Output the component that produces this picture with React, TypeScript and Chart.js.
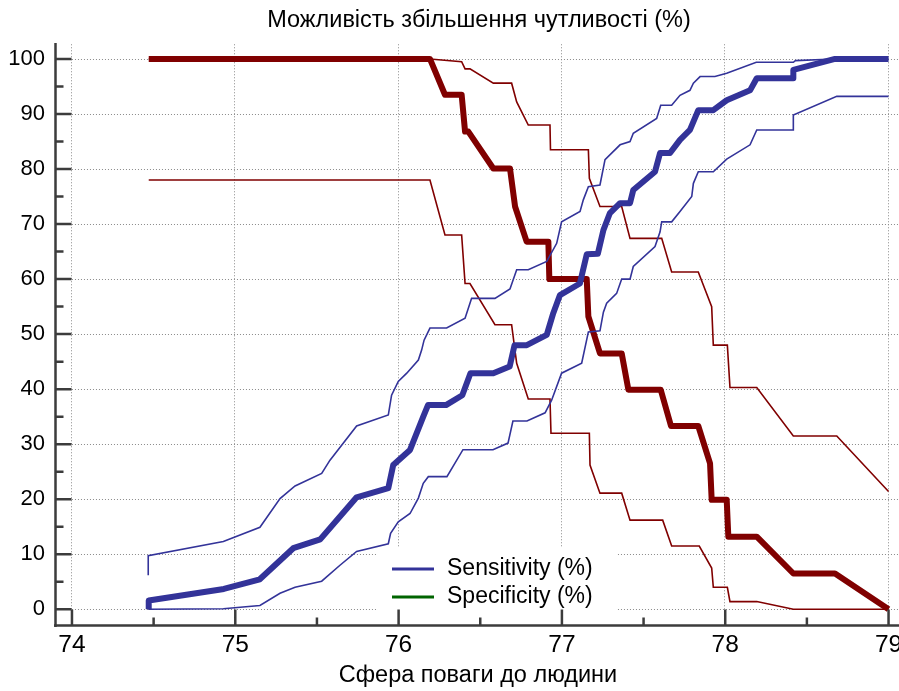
import React, { useEffect, useRef } from "react";
import { Chart, registerables } from "chart.js";

Chart.register(...registerables);

const FONT = "'Liberation Sans', Arial, Helvetica, sans-serif";

const titleText = "Можливість збільшення чутливості (%)";
const xAxisTitle = "Сфера поваги до людини";
const legendLabels = ["Sensitivity (%)", "Specificity (%)"];

const xTicks = [74, 75, 76, 77, 78, 79];
const xMinorTicks = [74.5, 75.5, 76.5, 77.5, 78.5];
const yTicks = [0, 10, 20, 30, 40, 50, 60, 70, 80, 90, 100];
const yMinorTicks = [5, 15, 25, 35, 45, 55, 65, 75, 85, 95];

const X_MIN = 73.89;
const X_MAX = 79.064;
const Y_MIN = -3.22;
const Y_MAX = 102.9;

// Sensitivity (%)
const sensX = [74.47, 74.47, 74.93, 75.15, 75.355, 75.52, 75.743, 75.937, 75.967, 76.07, 76.151, 76.18, 76.29, 76.39, 76.44, 76.58, 76.68, 76.71, 76.785, 76.907, 76.947, 76.988, 77.11, 77.152, 77.22, 77.254, 77.294, 77.356, 77.417, 77.437, 77.57, 77.601, 77.662, 77.723, 77.784, 77.835, 77.927, 78.009, 78.152, 78.193, 78.417, 78.417, 78.672, 79.0];
const sensY = [0, 1.6, 3.7, 5.45, 11.1, 12.7, 20.35, 22.0, 26.2, 28.95, 35.0, 37.1, 37.1, 38.9, 42.9, 42.9, 44.1, 48.0, 48.0, 49.85, 53.8, 57.1, 59.2, 64.5, 64.6, 68.9, 72.0, 73.8, 73.8, 76.2, 79.5, 82.9, 82.9, 85.3, 87.1, 90.7, 90.7, 92.5, 94.3, 96.5, 96.5, 98.0, 100, 100];

// Sensitivity upper confidence bound
const sensUpX = [74.467, 74.467, 74.927, 75.151, 75.274, 75.366, 75.529, 75.58, 75.743, 75.937, 75.957, 75.998, 76.05, 76.121, 76.141, 76.156, 76.192, 76.294, 76.407, 76.447, 76.59, 76.682, 76.723, 76.794, 76.907, 76.968, 76.998, 77.111, 77.131, 77.162, 77.233, 77.264, 77.356, 77.417, 77.437, 77.58, 77.605, 77.672, 77.723, 77.784, 77.805, 77.846, 77.937, 78.009, 78.19, 78.417, 78.43, 78.672, 79.0];
const sensUpY = [6.2, 9.75, 12.3, 14.9, 20.1, 22.4, 24.7, 27.1, 33.3, 35.3, 38.9, 41.4, 42.9, 45.3, 47.1, 48.9, 51.1, 51.1, 52.9, 56.5, 56.5, 58.2, 61.7, 61.7, 63.2, 66.5, 70.4, 72.3, 74.4, 76.8, 77.1, 81.7, 84.4, 85.0, 86.5, 89.2, 91.6, 91.6, 93.4, 94.3, 95.6, 96.8, 96.8, 97.4, 99.4, 99.4, 99.7, 100, 100];

// Sensitivity lower confidence bound
const sensLoX = [74.467, 74.927, 75.151, 75.274, 75.366, 75.529, 75.641, 75.743, 75.937, 75.951, 75.998, 76.07, 76.121, 76.151, 76.182, 76.296, 76.394, 76.578, 76.67, 76.7, 76.786, 76.897, 76.937, 76.998, 77.121, 77.162, 77.233, 77.254, 77.274, 77.335, 77.366, 77.417, 77.437, 77.57, 77.601, 77.611, 77.672, 77.723, 77.795, 77.805, 77.835, 77.927, 78.009, 78.152, 78.193, 78.417, 78.417, 78.683, 79.0];
const sensLoY = [0, 0.1, 0.7, 2.9, 4.0, 5.1, 8.0, 10.5, 11.9, 13.8, 15.9, 17.4, 20.2, 22.9, 24.1, 24.1, 29.0, 29.0, 30.2, 34.2, 34.2, 35.7, 38.0, 42.9, 44.7, 50.4, 50.6, 54.0, 55.6, 57.4, 60.0, 60.0, 62.3, 65.9, 68.6, 70.4, 70.4, 72.3, 75.0, 77.4, 79.5, 79.5, 81.8, 84.4, 87.1, 87.1, 89.8, 93.2, 93.2];

// Specificity (%)
const specX = [74.47, 76.192, 76.284, 76.386, 76.407, 76.427, 76.58, 76.682, 76.713, 76.784, 76.917, 76.923, 77.152, 77.162, 77.233, 77.366, 77.407, 77.605, 77.668, 77.835, 77.907, 77.917, 78.009, 78.019, 78.193, 78.417, 78.672, 79.0];
const specY = [100, 100, 93.5, 93.5, 86.8, 86.8, 80.1, 80.1, 73.2, 66.8, 66.8, 60.0, 60.0, 53.2, 46.5, 46.5, 39.9, 39.9, 33.3, 33.3, 26.5, 19.9, 19.9, 13.2, 13.2, 6.5, 6.5, 0];

// Specificity upper confidence bound
const specUpX = [74.47, 76.192, 76.386, 76.407, 76.437, 76.58, 76.692, 76.723, 76.794, 76.927, 76.93, 77.162, 77.168, 77.233, 77.366, 77.417, 77.611, 77.672, 77.835, 77.917, 77.927, 78.013, 78.029, 78.193, 78.417, 78.683, 79.0];
const specUpY = [100, 100, 99.5, 98.2, 98.2, 95.6, 95.6, 92.2, 88.0, 88.0, 83.5, 83.5, 78.3, 73.2, 73.2, 67.4, 67.4, 61.3, 61.3, 55.0, 48.0, 48.0, 40.3, 40.3, 31.5, 31.5, 21.4];

// Specificity lower confidence bound
const specLoX = [74.47, 76.192, 76.284, 76.386, 76.407, 76.437, 76.59, 76.692, 76.723, 76.794, 76.927, 76.933, 77.168, 77.172, 77.233, 77.366, 77.417, 77.617, 77.672, 77.841, 77.917, 77.927, 78.013, 78.029, 78.193, 78.417, 79.0];
const specLoY = [78.0, 78.0, 68.0, 68.0, 59.2, 59.2, 51.7, 51.7, 44.7, 38.2, 38.2, 32.0, 32.0, 26.2, 21.1, 21.1, 16.2, 16.2, 11.5, 11.5, 7.5, 4.0, 4.0, 1.4, 1.4, 0, 0];

const BLUE = "#333399";
const RED = "#800000";
const GREEN = "#006400";
const AXIS = "#3c3c3c";

const pts = (xs: number[], ys: number[]) => xs.map((x, i) => ({ x, y: ys[i] }));

const decorPlugin = {
  id: "decor",
  beforeDatasetsDraw(chart: any) {
    const { ctx, chartArea, scales } = chart;
    const x = scales.x;
    const y = scales.y;
    ctx.save();
    ctx.strokeStyle = "#8a8a8a";
    ctx.lineWidth = 1;
    ctx.setLineDash([1, 2]);
    const gx0 = x.getPixelForValue(xTicks[0]);
    const gy0 = y.getPixelForValue(yTicks[0]);
    for (const v of yTicks) {
      const py = Math.round(y.getPixelForValue(v)) + 0.5;
      ctx.beginPath();
      ctx.moveTo(gx0, py);
      ctx.lineTo(chartArea.right, py);
      ctx.stroke();
    }
    for (const v of xTicks) {
      const px = Math.round(x.getPixelForValue(v)) - 0.5;
      ctx.beginPath();
      ctx.moveTo(px, gy0);
      ctx.lineTo(px, chartArea.top);
      ctx.stroke();
    }
    ctx.setLineDash([]);
    // legend background
    ctx.fillStyle = "#ffffff";
    ctx.fillRect(377, 547, 240, 65);
    ctx.restore();
  },
  afterDatasetsDraw(chart: any) {
    const { ctx, chartArea, scales } = chart;
    const x = scales.x;
    const y = scales.y;
    ctx.save();
    ctx.strokeStyle = AXIS;
    ctx.lineWidth = 2.5;
    const ax = chartArea.left + 1.5;
    const ay = chartArea.bottom - 1.5;
    ctx.beginPath();
    ctx.moveTo(ax, chartArea.top);
    ctx.lineTo(ax, chartArea.bottom);
    ctx.moveTo(chartArea.left, ay);
    ctx.lineTo(chartArea.right, ay);
    ctx.stroke();
    ctx.beginPath();
    for (const v of yTicks) {
      const py = y.getPixelForValue(v);
      ctx.moveTo(ax, py);
      ctx.lineTo(ax + 16, py);
    }
    for (const v of yMinorTicks) {
      const py = y.getPixelForValue(v);
      ctx.moveTo(ax, py);
      ctx.lineTo(ax + 8, py);
    }
    for (const v of xTicks) {
      const px = x.getPixelForValue(v);
      ctx.moveTo(px, ay);
      ctx.lineTo(px, ay - 16);
    }
    for (const v of xMinorTicks) {
      const px = x.getPixelForValue(v);
      ctx.moveTo(px, ay);
      ctx.lineTo(px, ay - 8);
    }
    ctx.stroke();

    // legend
    const colors = [BLUE, GREEN];
    ctx.font = `23px ${FONT}`;
    ctx.textBaseline = "middle";
    ctx.textAlign = "left";
    legendLabels.forEach((lab, i) => {
      const ly = 569 + i * 28;
      ctx.strokeStyle = colors[i];
      ctx.lineWidth = 3;
      ctx.beginPath();
      ctx.moveTo(392, ly);
      ctx.lineTo(434, ly);
      ctx.stroke();
      ctx.fillStyle = "#000";
      ctx.fillText(lab, 447, ly);
    });

    // titles
    ctx.textAlign = "center";
    ctx.font = `23.5px ${FONT}`;
    ctx.fillText(titleText, 479, 21);
    ctx.fillText(xAxisTitle, 478, 676);
    ctx.restore();
  },
};

export default function App() {
  const canvasRef = useRef<HTMLCanvasElement | null>(null);

  useEffect(() => {
    if (!canvasRef.current) return;
    const thick = (label: string, data: any, color: string) => ({
      label,
      data,
      borderColor: color,
      backgroundColor: color,
      borderWidth: 6,
      pointRadius: 0,
      tension: 0,
      fill: false,
      borderJoinStyle: "round" as const,
    });
    const thin = (label: string, data: any, color: string) => ({
      label,
      data,
      borderColor: color,
      backgroundColor: color,
      borderWidth: 1.6,
      pointRadius: 0,
      tension: 0,
      fill: false,
    });
    const chart = new Chart(canvasRef.current, {
      type: "line",
      data: {
        datasets: [
          thick("Sensitivity (%)", pts(sensX, sensY), BLUE),
          thin("Sensitivity upper", pts(sensUpX, sensUpY), BLUE),
          thin("Sensitivity lower", pts(sensLoX, sensLoY), BLUE),
          thick("Specificity (%)", pts(specX, specY), RED),
          thin("Specificity upper", pts(specUpX, specUpY), RED),
          thin("Specificity lower", pts(specLoX, specLoY), RED),
        ],
      },
      options: {
        animation: false,
        responsive: true,
        maintainAspectRatio: false,
        layout: { padding: { top: 43, left: 0, right: 0, bottom: 0 }, autoPadding: false },
        plugins: { legend: { display: false }, tooltip: { enabled: false }, title: { display: false } },
        scales: {
          x: {
            type: "linear",
            min: X_MIN,
            max: X_MAX,
            grid: { display: false, drawTicks: false },
            border: { display: false },
            ticks: { font: { size: 24.5, family: FONT }, color: "#000", padding: 4, autoSkip: false, maxRotation: 0 },
            afterBuildTicks: (s: any) => {
              s.ticks = xTicks.map((v) => ({ value: v }));
            },
            afterFit: (s: any) => {
              s.height = 64;
              s.paddingLeft = 0;
              s.paddingRight = 0;
            },
          },
          y: {
            type: "linear",
            min: Y_MIN,
            max: Y_MAX,
            grid: { display: false, drawTicks: false },
            border: { display: false },
            ticks: { font: { size: 22, family: FONT }, color: "#000", padding: 9, autoSkip: false },
            afterBuildTicks: (s: any) => {
              s.ticks = yTicks.map((v) => ({ value: v }));
            },
            afterFit: (s: any) => {
              s.width = 54;
              s.paddingTop = 0;
              s.paddingBottom = 0;
            },
          },
        },
      },
      plugins: [decorPlugin],
    });
    return () => chart.destroy();
  }, []);

  return (
    <div style={{ position: "absolute", left: 0, top: 0, width: 899, height: 691, background: "#fff" }}>
      <canvas ref={canvasRef} />
    </div>
  );
}
